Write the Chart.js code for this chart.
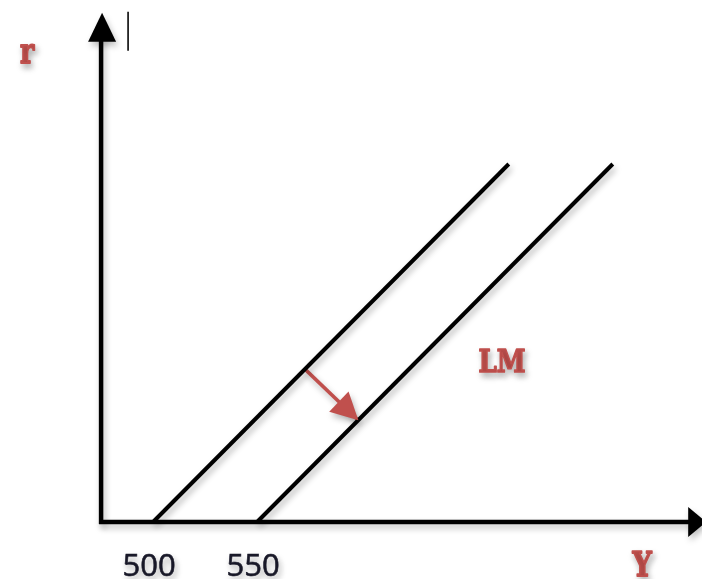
<!DOCTYPE html>
<html>
<head>
<meta charset="utf-8">
<script src="https://cdn.jsdelivr.net/npm/chart.js@4/dist/chart.umd.min.js"></script>
<style>
html,body{margin:0;padding:0;background:#fff;}
#wrap{width:702px;height:579px;}
</style>
</head>
<body>
<div id="wrap"><canvas id="c" width="702" height="579"></canvas></div>
<script>
// ---- data ----
const tickValues = [500, 550];
const tickLabels = ['500', '550'];
const lm1X = [500, 671];
const lm1R = [0, 10];
const lm2X = [550, 721];
const lm2R = [0, 10];
const shiftX = [573, 598];
const shiftR = [4.27, 2.88];
const axisXRange = [475, 764];
const axisRRange = [0, 14.2];
const xLabel = 'Y';
const yLabel = 'r';
const curveLabel = 'LM';

const RED = '#c0504d';

function pts(xs, ys){ return xs.map((x,i)=>({x:x, y:ys[i]})); }

const shadowPlugin = {
  id:'shadow',
  beforeDatasetsDraw(chart){
    const ctx = chart.ctx;
    ctx.save();
    ctx.shadowColor = 'rgba(0,0,0,0.28)';
    ctx.shadowBlur = 6;
    ctx.shadowOffsetX = 2;
    ctx.shadowOffsetY = 4;
  },
  afterDatasetsDraw(chart){
    chart.ctx.restore();
  }
};

const decorPlugin = {
  id:'decor',
  beforeDatasetsDraw(chart){
    const ctx = chart.ctx, xs = chart.scales.x, ys = chart.scales.y;
    const ox = xs.getPixelForValue(axisXRange[0]);
    const oy = ys.getPixelForValue(axisRRange[0]);
    const xEnd = xs.getPixelForValue(axisXRange[1]);
    const yEnd = ys.getPixelForValue(axisRRange[1]);
    ctx.save();
    ctx.shadowColor = 'rgba(0,0,0,0.25)';
    ctx.shadowBlur = 6;
    ctx.shadowOffsetX = 2;
    ctx.shadowOffsetY = 4;
    ctx.strokeStyle = '#000';
    ctx.fillStyle = '#000';
    ctx.lineWidth = 4.5;
    ctx.lineCap = 'butt';
    // y axis
    ctx.beginPath();
    ctx.moveTo(ox, oy + 2);
    ctx.lineTo(ox, yEnd + 20);
    ctx.stroke();
    // x axis
    ctx.beginPath();
    ctx.moveTo(ox - 2, oy);
    ctx.lineTo(xEnd - 10, oy);
    ctx.stroke();
    // arrowheads
    ctx.beginPath();
    ctx.moveTo(ox + 1, yEnd - 1);
    ctx.lineTo(ox + 15, yEnd + 28);
    ctx.lineTo(ox - 13, yEnd + 28);
    ctx.closePath();
    ctx.fill();
    ctx.beginPath();
    ctx.moveTo(xEnd + 4, oy);
    ctx.lineTo(xEnd - 14, oy - 15);
    ctx.lineTo(xEnd - 14, oy + 15);
    ctx.closePath();
    ctx.fill();
    ctx.restore();
    // small vertical bar near top
    ctx.save();
    ctx.strokeStyle = '#222';
    ctx.lineWidth = 1.8;
    ctx.beginPath();
    ctx.moveTo(ox + 27, yEnd - 2);
    ctx.lineTo(ox + 27, yEnd + 37);
    ctx.stroke();
    ctx.restore();
  },
  afterDatasetsDraw(chart){
    const ctx = chart.ctx, xs = chart.scales.x, ys = chart.scales.y;
    // red arrowhead at end of shift
    const x0 = xs.getPixelForValue(shiftX[0]), y0 = ys.getPixelForValue(shiftR[0]);
    const x1 = xs.getPixelForValue(shiftX[1]), y1 = ys.getPixelForValue(shiftR[1]);
    const ang = Math.atan2(y1 - y0, x1 - x0);
    const L = 27, W = 14;
    const tx = x1 + 2*Math.cos(ang), ty = y1 + 2*Math.sin(ang);
    const bx = tx - L*Math.cos(ang), by = ty - L*Math.sin(ang);
    ctx.save();
    ctx.fillStyle = RED;
    ctx.beginPath();
    ctx.moveTo(tx, ty);
    ctx.lineTo(bx + W*Math.sin(ang), by - W*Math.cos(ang));
    ctx.lineTo(bx - W*Math.sin(ang), by + W*Math.cos(ang));
    ctx.closePath();
    ctx.fill();
    ctx.restore();

    const oy = ys.getPixelForValue(axisRRange[0]);
    const ox = xs.getPixelForValue(axisXRange[0]);
    // tick labels
    ctx.save();
    ctx.fillStyle = '#1a1a2a';
    ctx.strokeStyle = '#1a1a2a';
    ctx.lineWidth = 0.6;
    ctx.font = '31px "Open Sans", "Liberation Sans", sans-serif';
    ctx.textAlign = 'center';
    ctx.textBaseline = 'alphabetic';
    tickValues.forEach((v,i)=>{
      const px = xs.getPixelForValue(v) - 4;
      ctx.fillText(tickLabels[i], px, oy + 54);
      ctx.strokeText(tickLabels[i], px, oy + 54);
    });
    ctx.restore();

    function serifText(txt, x, y, size, sy){
      ctx.save();
      ctx.fillStyle = RED;
      ctx.strokeStyle = RED;
      ctx.lineWidth = 1.4;
      ctx.lineJoin = 'round';
      ctx.font = 'bold ' + size + 'px "DejaVu Serif", "Liberation Serif", serif';
      ctx.textAlign = 'center';
      ctx.textBaseline = 'alphabetic';
      ctx.translate(x, y);
      ctx.scale(1, sy);
      ctx.fillText(txt, 0, 0);
      ctx.strokeText(txt, 0, 0);
      ctx.restore();
    }
    serifText(yLabel, ox - 74, 63, 27, 1.3);
    serifText(xLabel, xs.getPixelForValue(axisXRange[1]) - 60, oy + 54, 27, 1.25);
    serifText(curveLabel, 502, 372, 26, 1.2);
  }
};

new Chart(document.getElementById('c'), {
  type:'scatter',
  data:{
    datasets:[
      {data:pts(lm1X, lm1R), showLine:true, borderColor:'#000', borderWidth:4, pointRadius:0, borderCapStyle:'butt'},
      {data:pts(lm2X, lm2R), showLine:true, borderColor:'#000', borderWidth:4, pointRadius:0, borderCapStyle:'butt'},
      {data:pts(shiftX, shiftR), showLine:true, borderColor:RED, borderWidth:3.5, pointRadius:0}
    ]
  },
  options:{
    responsive:false,
    animation:false,
    events:[],
    layout:{padding:0},
    plugins:{legend:{display:false}, tooltip:{enabled:false}},
    scales:{
      x:{type:'linear', display:false, min:426.4, max:763.9},
      y:{type:'linear', display:false, min:-1.592, max:14.581}
    }
  },
  plugins:[decorPlugin, shadowPlugin]
});
</script>
</body>
</html>
